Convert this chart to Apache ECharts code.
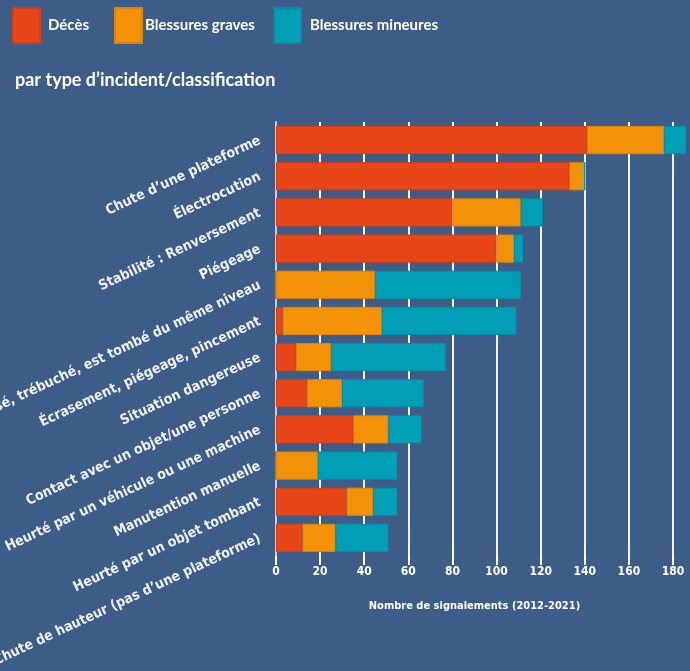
<!DOCTYPE html>
<html><head><meta charset="utf-8">
<script src="https://cdn.jsdelivr.net/npm/echarts@6/dist/echarts.min.js"></script>
<style>html,body{margin:0;padding:0;background:#3e5c88;}#c{width:690px;height:671px;}</style>
</head><body><div id="c"></div>
<script>
const categories = [
  "Chute d’une plateforme",
  "Électrocution",
  "Stabilité : Renversement",
  "Piégeage",
  "Glissé, trébuché, est tombé du même niveau",
  "Écrasement, piégeage, pincement",
  "Situation dangereuse",
  "Contact avec un objet/une personne",
  "Heurté par un véhicule ou une machine",
  "Manutention manuelle",
  "Heurté par un objet tombant",
  "Chute de hauteur (pas d’une plateforme)"
];
const deces = [141, 133, 80, 100, 0, 3, 9, 14, 35, 0, 32, 12];
const blessuresGraves = [35, 7, 31, 8, 45, 45, 16, 16, 16, 19, 12, 15];
const blessuresMineures = [10, 0, 10, 4, 66, 61, 52, 37, 15, 36, 11, 24];
const seriesNames = ["Décès", "Blessures graves", "Blessures mineures"];
const xTicks = [0, 20, 40, 60, 80, 100, 120, 140, 160, 180];
const title = "par type d’incident/classification";
const axisTitle = "Nombre de signalements (2012-2021)";

const colors = ["#e84618", "#f39206", "#009fb6"];
const borders = ["#d23f14", "#dd8406", "#0090a6"];
const lato = "Lato, 'DejaVu Sans Condensed', sans-serif";
const cond = "'DejaVu Sans Condensed', sans-serif";

const chart = echarts.init(document.getElementById('c'), null, {renderer: 'canvas'});
const data = [deces, blessuresGraves, blessuresMineures];
const legendX = [12, 114, 273];
const legendGaps = [8, 3, 9];

chart.setOption({
  backgroundColor: '#3e5c88',
  animation: false,
  title: {
    text: title, left: 10, top: 66,
    textStyle: {color: '#ffffff', fontSize: 18, fontWeight: 'bold', fontFamily: lato}
  },
  legend: seriesNames.map((n, i) => ({
    data: [n], left: legendX[i], top: 7, itemWidth: 27, itemHeight: 35,
    icon: 'rect', itemGap: 0, padding: 0,
    textStyle: {color: '#ffffff', fontSize: 15, fontWeight: 'bold', fontFamily: lato, padding: [0, 0, 0, legendGaps[i] - 5]}
  })),
  grid: {left: 276, right: 17, top: 122, bottom: 115, containLabel: false, outerBoundsMode: 'none'},
  xAxis: {
    type: 'value', min: 0, max: 180, interval: 20,
    name: axisTitle, nameLocation: 'middle', nameGap: 45,
    nameTextStyle: {color: '#ffffff', fontSize: 11, fontWeight: 'bold', fontFamily: cond},
    axisLine: {show: false},
    axisTick: {show: true, length: 9, lineStyle: {color: '#ffffff', width: 2}},
    axisLabel: {color: '#ffffff', fontSize: 12, fontWeight: 'bold', fontFamily: cond, margin: 10,
      customValues: xTicks},
    splitLine: {show: true, lineStyle: {color: '#f2f4f8', width: 2}}
  },
  yAxis: {
    type: 'category', data: categories, inverse: true,
    axisLine: {show: true, lineStyle: {color: '#c8cfdc', width: 2}},
    axisTick: {show: false},
    axisLabel: {color: '#eef1f6', fontSize: 14, fontWeight: 'bold', fontFamily: cond, rotate: 25, margin: 16}
  },
  series: seriesNames.map((n, i) => ({
    name: n, type: 'bar', stack: 'total', data: data[i],
    barCategoryGap: '22%', clip: false,
    itemStyle: {color: colors[i], borderColor: borders[i], borderWidth: 1}
  }))
});
</script></body></html>
